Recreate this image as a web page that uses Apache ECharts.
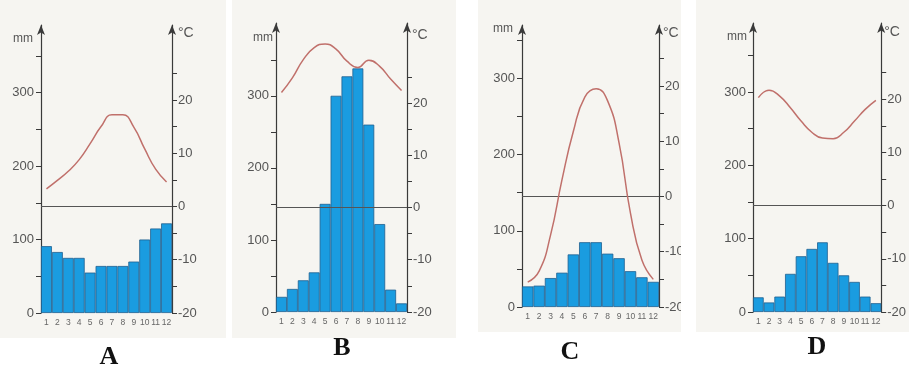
<!DOCTYPE html>
<html>
<head>
<meta charset="utf-8">
<script src="https://cdn.jsdelivr.net/npm/echarts@6/dist/echarts.min.js"></script>
<style>
  html, body { margin: 0; padding: 0; background: #fff; }
  #chart { width: 909px; height: 372px; }
</style>
</head>
<body>
<div id="chart"></div>
<script>
// months on the x axis
var months = ['1', '2', '3', '4', '5', '6', '7', '8', '9', '10', '11', '12'];
var letters = ['A', 'B', 'C', 'D'];

// rainfall (mm) and temperature (°C)
var rainA = [91, 83, 75, 75, 55, 64, 64, 64, 70, 100, 115, 122];
var tempA = [3.3, 4.9, 6.6, 8.8, 11.8, 15, 17.2, 17.2, 14.9, 10.8, 7, 4.6];
var rainB = [21, 32, 44, 55, 150, 300, 327, 338, 260, 122, 31, 12];
var tempB = [22, 24.8, 28.3, 30.6, 31.3, 30.3, 28, 26.8, 28.2, 27, 24.6, 22.4];
var rainC = [27, 28, 38, 45, 69, 85, 85, 70, 64, 47, 39, 33];
var tempC = [-15.5, -13.5, -7, 3, 11.8, 18, 19.5, 17.3, 9.7, -3, -11.5, -15];
var rainD = [20, 13, 21, 52, 76, 86, 95, 67, 50, 41, 21, 12];
var tempD = [20.3, 21.7, 20.6, 18.4, 15.9, 13.8, 12.7, 12.6, 13.8, 15.9, 18.1, 19.8];

// axis ticks / labels
var mmTicks = [0, 50, 100, 150, 200, 250, 300, 350];
var mmLabels = [0, 100, 200, 300];
var degTicks = [-20, -15, -10, -5, 0, 5, 10, 15, 20, 25];
var degLabels = [-20, -10, 0, 10, 20];

var rains = [rainA, rainB, rainC, rainD];
var temps = [tempA, tempB, tempC, tempD];

// layout of the four little diagrams
var boxes = [
  { left: 41, top: 25, width: 131, height: 288, mmMax: 392, mmPad: 8, mmGap: -14, cPad: 6, cGap: -8, lx: 109, ly: 357 },
  { left: 276, top: 23, width: 131, height: 289, mmMax: 401, mmPad: 3, mmGap: -15, cPad: 5, cGap: -12, lx: 342, ly: 348 },
  { left: 522, top: 25, width: 137, height: 282, mmMax: 370, mmPad: 9, mmGap: -4, cPad: 4, cGap: -8, lx: 570, ly: 352 },
  { left: 753, top: 23, width: 131, height: 289, mmMax: 394, mmPad: 6, mmGap: -14, cPad: 3, cGap: -9, lx: 817, ly: 347 }
];
var degPerMm = 7.25; // 1 °C step = 7.25 mm on the left scale, -20 °C sits at 0 mm

var axisCol = '#3a3a3a';
var textCol = '#555';

var grid = [], xAxis = [], yAxis = [], series = [];
var graphic = [
  { type: 'rect', z: -1, shape: { x: 0, y: 0, width: 226, height: 338 }, style: { fill: '#f6f5f1' } },
  { type: 'rect', z: -1, shape: { x: 232, y: 0, width: 224, height: 338 }, style: { fill: '#f6f5f1' } },
  { type: 'rect', z: -1, shape: { x: 478, y: 0, width: 203, height: 332 }, style: { fill: '#f6f5f1' } },
  { type: 'rect', z: -1, shape: { x: 696, y: 0, width: 213, height: 332 }, style: { fill: '#f6f5f1' } },
  // the scan cuts the right labels of C
  { type: 'rect', z: 100, shape: { x: 681, y: 0, width: 15, height: 340 }, style: { fill: '#fff' } }
];

boxes.forEach(function (b, i) {
  grid.push({ left: b.left, top: b.top, width: b.width, height: b.height });
  xAxis.push({
    type: 'category', gridIndex: i, data: months,
    axisLine: { show: false }, axisTick: { show: false },
    axisLabel: { color: '#666', fontSize: 8.5, margin: 5, interval: 0, fontFamily: 'Liberation Sans' }
  });
  yAxis.push({
    type: 'value', gridIndex: i, position: 'left', min: 0, max: b.mmMax,
    name: 'mm', nameLocation: 'end', nameGap: b.mmGap,
    nameTextStyle: { color: textCol, fontSize: 12, align: 'right', verticalAlign: 'middle', padding: [0, b.mmPad, 0, 0], fontFamily: 'Liberation Sans' },
    axisLine: { show: true, symbol: ['none', 'arrow'], symbolSize: [6, 10], lineStyle: { color: axisCol, width: 1.2 } },
    axisTick: { show: true, length: 5, customValues: mmTicks, lineStyle: { color: axisCol } },
    axisLabel: { customValues: mmLabels, color: textCol, fontSize: 13, margin: 7, fontFamily: 'Liberation Sans' },
    splitLine: { show: false }
  });
  yAxis.push({
    type: 'value', gridIndex: i, position: 'right', min: -20, max: b.mmMax / degPerMm - 20,
    name: '°C', nameLocation: 'end', nameGap: b.cGap,
    nameTextStyle: { color: textCol, fontSize: 14, align: 'left', verticalAlign: 'middle', padding: [0, 0, 0, b.cPad], fontFamily: 'Liberation Sans' },
    axisLine: { show: true, symbol: ['none', 'arrow'], symbolSize: [6, 10], lineStyle: { color: axisCol, width: 1.2 } },
    axisTick: { show: true, length: 5, customValues: degTicks, lineStyle: { color: axisCol } },
    axisLabel: { customValues: degLabels, color: textCol, fontSize: 13, margin: 6, fontFamily: 'Liberation Sans' },
    splitLine: { show: false }
  });
  series.push({
    type: 'bar', xAxisIndex: i, yAxisIndex: i * 2, data: rains[i],
    barCategoryGap: '0%',
    itemStyle: { color: '#1a9ce0', borderColor: '#1f5f8f', borderWidth: 0.8 },
    silent: true
  });
  series.push({
    type: 'line', xAxisIndex: i, yAxisIndex: i * 2 + 1, data: temps[i],
    smooth: 0.5, symbol: 'none', z: 5,
    lineStyle: { color: '#c0706b', width: 1.5 },
    markLine: {
      silent: true, symbol: 'none', label: { show: false },
      lineStyle: { color: '#555', width: 1, type: 'solid' },
      data: [{ yAxis: 0 }]
    }
  });
  graphic.push({
    type: 'text', x: b.lx, y: b.ly, z: 10,
    style: {
      text: letters[i], fill: '#111', textAlign: 'center', textVerticalAlign: 'middle',
      font: 'bold 26px "Liberation Serif", serif'
    }
  });
});

var myChart = echarts.init(document.getElementById('chart'));
myChart.setOption({
  animation: false,
  backgroundColor: '#fff',
  grid: grid,
  xAxis: xAxis,
  yAxis: yAxis,
  series: series,
  graphic: graphic
});
</script>
</body>
</html>
